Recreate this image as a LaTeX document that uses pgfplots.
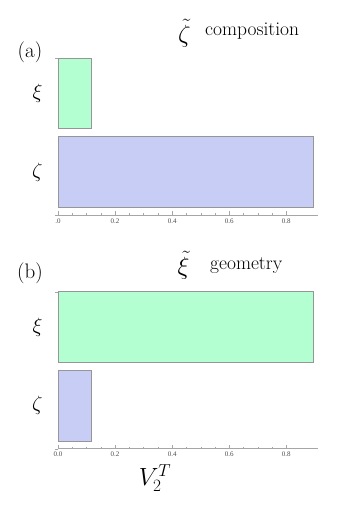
\documentclass[border=0pt]{standalone}
\usepackage{pgfplots}
\pgfplotsset{compat=1.18}
\usepackage{fontspec}
\newfontfamily\tickfont{Liberation Serif}
\definecolor{mgreen}{RGB}{180,255,210}
\definecolor{mblue}{RGB}{200,205,245}
\definecolor{edgegray}{RGB}{150,150,150}
\pgfplotsset{
  mystyle/.style={
    scale only axis,
    width=260pt, height=157pt,
    xmin=0, xmax=0.911,
    ymin=0.45, ymax=2.45,
    axis x line=bottom, axis y line=left,
    x axis line style={-, draw=gray!70},
    y axis line style={draw=none},
    xtick={0,0.2,0.4,0.6,0.8},
    minor x tick num=3,
    tick align=inside,
    x tick style={gray!70, thin},
    major tick length=4pt, minor tick length=2pt,
    /pgf/number format/assume math mode=true,
    xticklabel style={font=\tickfont\fontsize{7}{8}\selectfont, text=black!70, yshift=0pt},
    ytick={1,2}, yticklabels={$\zeta$,$\xi$},
    y tick style={draw=none},
    yticklabel style={font=\fontsize{21}{22}\selectfont, xshift=-8pt},
    extra y ticks={0.45,2.45}, extra y tick labels={},
    extra y tick style={tick align=outside, major tick length=3pt, y tick style={draw=gray!70}},
    xbar, bar width=0.9, bar shift=0pt,
    clip=false,
  }
}
\begin{document}
\begin{tikzpicture}
\path[use as bounding box] (0pt,0pt) rectangle (345pt,505pt);
% top panel
\begin{axis}[mystyle, at={(58pt,447pt)}, anchor=north west,
  xticklabels={.0,0.2,0.4,0.6,0.8}]
\addplot[fill=mgreen, draw=edgegray, line width=0.5pt] coordinates {(0.117,2)};
\addplot[fill=mblue, draw=edgegray, line width=0.5pt] coordinates {(0.893,1)};
\end{axis}
% bottom panel
\begin{axis}[mystyle, at={(58pt,213.3pt)}, anchor=north west,
  xticklabels={0.0,0.2,0.4,0.6,0.8}]
\addplot[fill=mgreen, draw=edgegray, line width=0.5pt] coordinates {(0.893,2)};
\addplot[fill=mblue, draw=edgegray, line width=0.5pt] coordinates {(0.117,1)};
\end{axis}
% panel labels and titles
\node[font=\fontsize{21}{24}\selectfont] at (30pt,453pt) {(a)};
\node[font=\fontsize{21}{24}\selectfont] at (30pt,231.5pt) {(b)};
\node[font=\fontsize{23}{25}\selectfont, inner sep=0pt] at (184.5pt,472pt) {$\tilde{\zeta}$};
\node[font=\fontsize{19.5}{22}\selectfont, anchor=base west, inner sep=0pt] at (205pt,469pt) {composition};
\node[font=\fontsize{23}{25}\selectfont, inner sep=0pt] at (183.5pt,240pt) {$\tilde{\xi}$};
\node[font=\fontsize{19.5}{22}\selectfont, anchor=base west, inner sep=0pt] at (210pt,235pt) {geometry};
\node[font=\fontsize{26}{30}\selectfont] at (155pt,27pt) {$V_2^T$};
\end{tikzpicture}
\end{document}
